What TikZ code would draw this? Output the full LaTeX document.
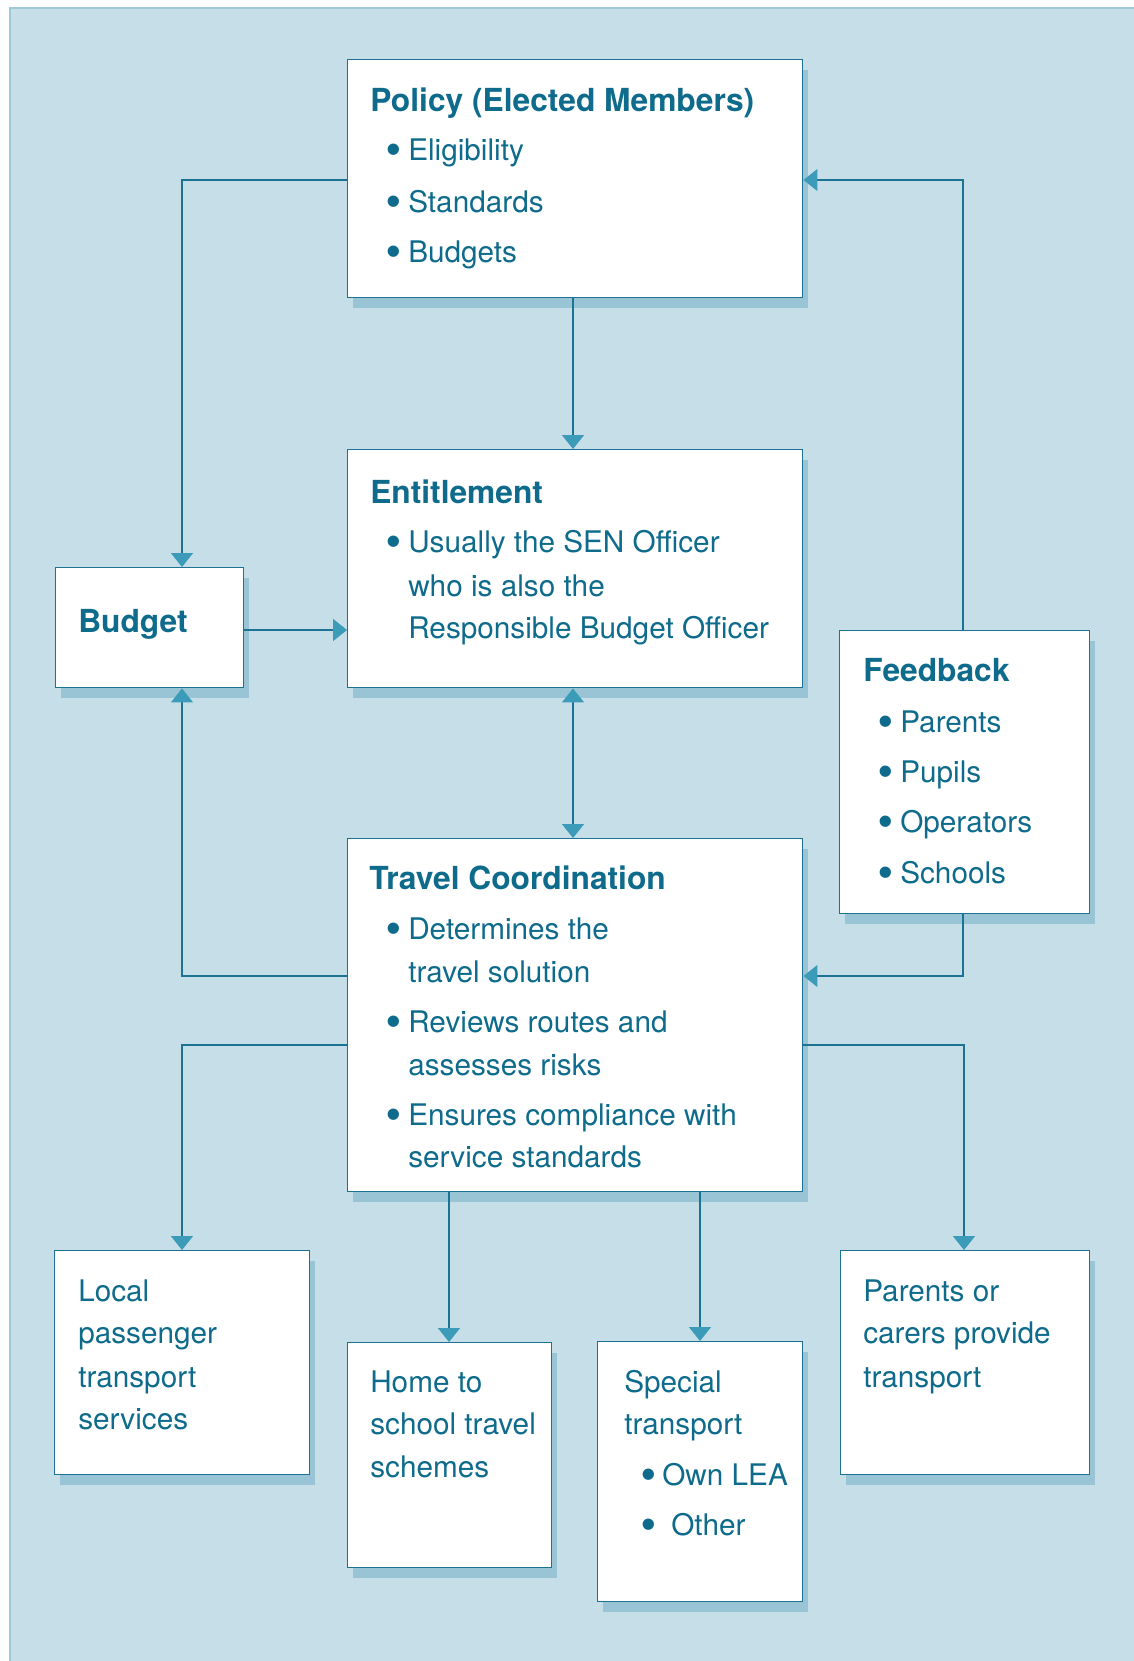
\documentclass[tikz,border=0pt]{standalone}
\usepackage{fontspec}
\setmainfont{TeX Gyre Heros}
\newfontfamily\bulfont{Liberation Sans}
\usetikzlibrary{arrows.meta,shadows}
\definecolor{bgc}{HTML}{C5DEE7}
\definecolor{framec}{HTML}{9EC9D9}
\definecolor{shadc}{HTML}{98C4D5}
\definecolor{linec}{HTML}{1B7292}
\definecolor{textc}{HTML}{0E6B8C}
\definecolor{arrowc}{HTML}{3C9BB8}
\newcommand\bodyf{\fontsize{22.3}{26}\selectfont}
\newcommand\titf{\fontsize{23.8}{28}\selectfont\bfseries}
\newcommand\bul[1][5.25pt]{\llap{\raisebox{-2.8pt}{\scalebox{1.4}{\bulfont\textbullet}}\kern#1}}
\tikzset{
  box/.style={draw=linec, line width=1.1pt, fill=white, inner sep=0pt, anchor=north west,
    drop shadow={shadow xshift=3.75pt, shadow yshift=-7.5pt, fill=shadc, opacity=1}},
  txt/.style={anchor=base west, inner sep=0pt, text=textc, font=\bodyf},
  ttl/.style={anchor=base west, inner sep=0pt, text=textc, font=\titf},
  conn/.style={draw=linec, line width=1.1pt, -{Triangle[length=10.5pt, width=16.5pt, color=arrowc]}},
  conn2/.style={draw=linec, line width=1.1pt, {Triangle[length=10.5pt, width=16.5pt, color=arrowc]}-{Triangle[length=10.5pt, width=16.5pt, color=arrowc]}}
}
\newcommand\mkbox[5]{\node[box, minimum width={(#4-#2)*0.75pt}, minimum height={(#5-#3)*0.75pt}] (#1) at (#2,#3) {};}
\begin{document}
\begin{tikzpicture}[x=0.75pt, y=-0.75pt]
\useasboundingbox (0,0) rectangle (1133,1661);
\fill[white] (0,0) rectangle (1133,1661);
\draw[draw=framec, line width=1.5pt, fill=bgc] (9.5,8) rectangle (1150,1680);

% boxes
\mkbox{policy}{347}{59}{802}{297}
\mkbox{ent}{347}{449}{802}{687}
\mkbox{budget}{55}{567}{243}{687}
\mkbox{feedback}{839}{630}{1089}{913}
\mkbox{travel}{347}{838}{802}{1191}
\mkbox{local}{54}{1250}{309}{1474}
\mkbox{home}{347}{1342}{551}{1567}
\mkbox{special}{597}{1341}{802}{1601}
\mkbox{parents}{840}{1250}{1089}{1474}

% texts
\node[ttl] (p0) at (370,111) {Policy (Elected Members)};
\node[txt] (p1) at (408,160) {\bul Eligibility};
\node[txt] (p2) at (408,212) {\bul Standards};
\node[txt] (p3) at (408,262) {\bul Budgets};

\node[ttl] (e0) at (370,503) {Entitlement};
\node[txt] (e1) at (408,552) {\bul Usually the SEN Officer};
\node[txt] (e2) at (408,596) {who is also the};
\node[txt] (e3) at (408,638) {Responsible Budget Officer};

\node[ttl] (b0) at (78,632) {Budget};

\node[ttl] (f0) at (863,681) {Feedback};
\node[txt] (f1) at (900,732) {\bul Parents};
\node[txt] (f2) at (900,782) {\bul Pupils};
\node[txt] (f3) at (900,832) {\bul Operators};
\node[txt] (f4) at (900,883) {\bul Schools};

\node[ttl] (t0) at (369,889) {Travel Coordination};
\node[txt] (t1) at (408,939) {\bul Determines the};
\node[txt] (t2) at (408,982) {travel solution};
\node[txt] (t3) at (408,1032) {\bul Reviews routes and};
\node[txt] (t4) at (408,1075) {assesses risks};
\node[txt] (t5) at (408,1125) {\bul Ensures compliance with};
\node[txt] (t6) at (408,1167) {service standards};

\node[txt] (l1) at (78,1301) {Local};
\node[txt] (l2) at (78,1343) {passenger};
\node[txt] (l3) at (78,1387) {transport};
\node[txt] (l4) at (78,1429) {services};

\node[txt] (h1) at (370,1392) {Home to};
\node[txt] (h2) at (370,1434) {school travel};
\node[txt] (h3) at (370,1477) {schemes};

\node[txt] (s1) at (624,1392) {Special};
\node[txt] (s2) at (624,1434) {transport};
\node[txt] (s3) at (662,1485) {\bul[4.5pt]Own LEA};
\node[txt] (s4) at (671,1535) {\bul[11.25pt]Other};

\node[txt] (r1) at (863,1301) {Parents or};
\node[txt] (r2) at (863,1343) {carers provide};
\node[txt] (r3) at (863,1387) {transport};

% connectors
\coordinate (jpl) at (182,180);
\draw[conn] (policy.west |- jpl) -- (jpl) -- (jpl |- budget.north);
\coordinate (jfb) at (963,180);
\draw[conn] (feedback.north -| jfb) -- (jfb) -- (jfb -| policy.east);
\coordinate (jc) at (573,400);
\draw[conn] (policy.south -| jc) -- (ent.north -| jc);
\coordinate (jb) at (200,630);
\draw[conn] (budget.east |- jb) -- (ent.west |- jb);
\draw[conn2] (ent.south -| jc) -- (travel.north -| jc);
\coordinate (jtl1) at (182,976);
\draw[conn] (travel.west |- jtl1) -- (jtl1) -- (jtl1 |- budget.south);
\coordinate (jtf) at (963,976);
\draw[conn] (feedback.south -| jtf) -- (jtf) -- (jtf -| travel.east);
\coordinate (jtl2) at (182,1045);
\draw[conn] (travel.west |- jtl2) -- (jtl2) -- (jtl2 |- local.north);
\coordinate (jtr2) at (964,1045);
\draw[conn] (travel.east |- jtr2) -- (jtr2) -- (jtr2 |- parents.north);
\coordinate (jh) at (449,1200);
\draw[conn] (travel.south -| jh) -- (home.north -| jh);
\coordinate (js) at (700,1200);
\draw[conn] (travel.south -| js) -- (special.north -| js);
\end{tikzpicture}
\end{document}
